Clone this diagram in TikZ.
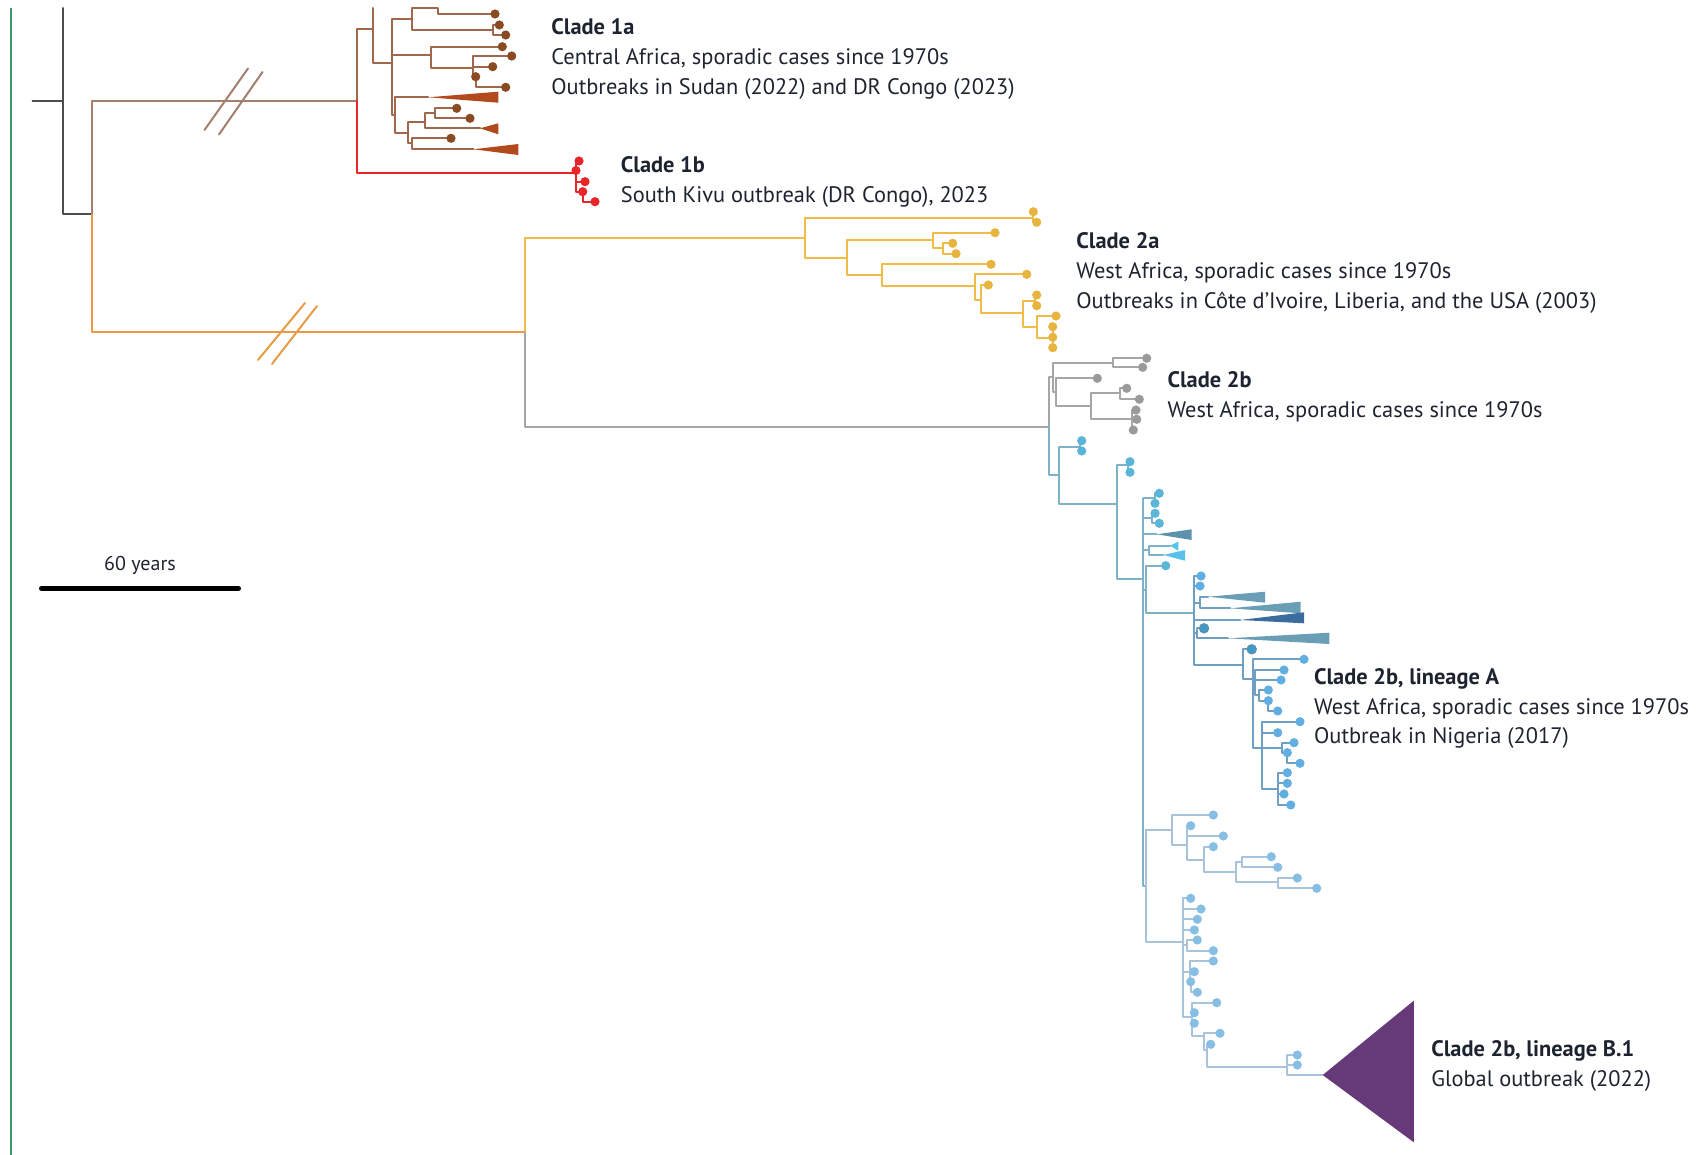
\documentclass[tikz,border=0pt]{standalone}
\usepackage{fontspec}
\setmainfont{PT Sans}
\usetikzlibrary{positioning}
\definecolor{rootgrey}{HTML}{4D4D4D}
\definecolor{trunkbrown}{HTML}{A3806E}
\definecolor{trunkorange}{HTML}{E79B45}
\definecolor{onealine}{HTML}{A0674C}
\definecolor{onedot}{HTML}{8A4A22}
\definecolor{onewedge}{HTML}{B24A1E}
\definecolor{onebred}{HTML}{E8262A}
\definecolor{twoayellow}{HTML}{F1BC45}
\definecolor{twoadot}{HTML}{E8B440}
\definecolor{twobgrey}{HTML}{A6A6A6}
\definecolor{twobdot}{HTML}{9A9A9A}
\definecolor{blueline}{HTML}{7FB2C6}
\definecolor{bluedot}{HTML}{5BB5D8}
\definecolor{linealine}{HTML}{6F9FC2}
\definecolor{lineadot}{HTML}{61AEE0}
\definecolor{linebline}{HTML}{A9C3DA}
\definecolor{linebdot}{HTML}{86BFE3}
\definecolor{steelwedge}{HTML}{5E91AC}
\definecolor{cyanwedge}{HTML}{58C2EA}
\definecolor{lineawedge}{HTML}{6A9EB6}
\definecolor{darkwedge}{HTML}{3A6C9E}
\definecolor{ancestordot}{HTML}{3E9ACB}
\definecolor{outbreakpurple}{HTML}{663A78}
\definecolor{edgegreen}{HTML}{3A9A6A}
\definecolor{labelink}{HTML}{1E2330}
\def\tipdot[#1](#2){\fill[#1] (#2) circle (2.3pt);}
\def\cladewedge[#1](#2)(#3:#4:#5){\fill[#1] (#2) -- (#3,#4) -- (#3,#5) -- cycle;}

\begin{document}
\begin{tikzpicture}[x=0.5pt,y=-0.5pt,
    branch/.style={line width=1pt, line cap=round, line join=round},
    cladetext/.style={anchor=base west, inner sep=0pt, text=labelink, font=\fontsize{11.2}{13}\selectfont}]
			%%%%% START %%%%%
			\useasboundingbox (0,0) rectangle (1701,1155);
			\draw[edgegreen, line width=0.8pt] (10.8,8) -- (10.8,1155);
			
			% root
			\draw[branch, rootgrey] (32.5,101) -- (63,101);
			\draw[branch, rootgrey] (63,8) -- (63,214.5) -- (92,214.5);
			\draw[branch, trunkbrown] (92,214.5) -- (92,101) -- (356.7,101);
			\draw[branch, trunkorange] (92,214.5) -- (92,332) -- (525,332);
			\draw[branch, trunkbrown] (204.5,130) -- (248,68.5);
			\draw[branch, trunkbrown] (219,134.5) -- (262.5,72);
			\draw[branch, trunkorange] (258,360) -- (305,303);
			\draw[branch, trunkorange] (272,364) -- (317,306);
			
			% clade 1a
			\draw[branch, onealine] (356.7,101) -- (356.7,29.3) -- (372.7,29.3);
			\draw[branch, onealine] (372.7,8) -- (372.7,63.3) -- (391.7,63.3);
			\draw[branch, onealine] (411.7,19.3) -- (391.7,19.3) -- (391.7,115) -- (395,115);
			\draw[branch, onealine] (391.7,55) -- (430.7,55);
			\draw[branch, onealine] (437.7,8.3) -- (411.7,8.3) -- (411.7,30) -- (492.7,30);
			\draw[branch, onealine] (437.7,8.3) -- (437.7,14) -- (495,14);
			\draw[branch, onealine] (505.7,35) -- (492.7,35) -- (492.7,25) -- (499.3,25);
			\draw[branch, onealine] (502.3,46.7) -- (430.7,46.7) -- (430.7,68.3) -- (472.7,68.3);
			\draw[branch, onealine] (511.7,56) -- (472.7,56) -- (472.7,76.7) -- (475.7,76.7) -- (475.7,87.3) -- (505.7,87.3);
			\draw[branch, onealine] (472.7,66.7) -- (492.7,66.7);
			\draw[branch, onealine] (428,97.3) -- (395,97.3) -- (395,133.3) -- (408.3,133.3);
			\draw[branch, onealine] (425,121.7) -- (408.3,121.7) -- (408.3,143.3) -- (411.7,143.3);
			\draw[branch, onealine] (435,112.7) -- (425,112.7) -- (425,128.3) -- (480,128.3);
			\draw[branch, onealine] (456.7,108.3) -- (435,108.3) -- (435,118.3) -- (470,118.3);
			\draw[branch, onealine] (451,138.3) -- (411.7,138.3) -- (411.7,149.3) -- (473.3,149.3);
			\cladewedge[onewedge](428,97.3)(498.3:91.7:102.7)
			\cladewedge[onewedge](480,128.3)(498.3:123.3:134.3)
			\cladewedge[onewedge](473.3,149.3)(518.3:144:155)
			\tipdot[onedot](495,14) \tipdot[onedot](499.3,25) \tipdot[onedot](505.7,35)
			\tipdot[onedot](502.3,46.7) \tipdot[onedot](511.7,56) \tipdot[onedot](492.7,66.7)
			\tipdot[onedot](475.7,76.7) \tipdot[onedot](505.7,87.3) \tipdot[onedot](456.7,108.3)
			\tipdot[onedot](470,118.3) \tipdot[onedot](451,138.3)
			
			% clade 1b
			\draw[branch, onebred] (356.7,101) -- (356.7,173) -- (576,173);
			\draw[branch, onebred] (579,161) -- (576,161) -- (576,191.7) -- (582.7,191.7) -- (582.7,201.7) -- (595,201.7);
			\draw[branch, onebred] (576,181.7) -- (585,181.7);
			\tipdot[onebred](579,161) \tipdot[onebred](576,170.5) \tipdot[onebred](585,181.7)
			\tipdot[onebred](582.7,191.7) \tipdot[onebred](595,201.7)
			
			% clade 2a
			\draw[branch, twoayellow] (525,332) -- (525,238) -- (805,238);
			\draw[branch, twoayellow] (1033,217.7) -- (805,217.7) -- (805,257.7) -- (846.7,257.7);
			\draw[branch, twoayellow] (1033,211.7) -- (1033,222.3) -- (1036.7,222.3);
			\draw[branch, twoayellow] (933.3,240) -- (846.7,240) -- (846.7,275) -- (881.7,275);
			\draw[branch, twoayellow] (995,232.7) -- (933.3,232.7) -- (933.3,248.3) -- (942.7,248.3);
			\draw[branch, twoayellow] (952.7,243.3) -- (942.7,243.3) -- (942.7,253.7) -- (956,253.7);
			\draw[branch, twoayellow] (991,264.3) -- (881.7,264.3) -- (881.7,286) -- (975,286);
			\draw[branch, twoayellow] (1026.7,274.3) -- (975,274.3) -- (975,300) -- (981,300);
			\draw[branch, twoayellow] (988.3,285) -- (981,285) -- (981,313.3) -- (1023.3,313.3);
			\draw[branch, twoayellow] (1035,301) -- (1023.3,301) -- (1023.3,326.7) -- (1036.7,326.7);
			\draw[branch, twoayellow] (1036.7,295) -- (1035,295) -- (1035,305.7) -- (1036.7,305.7);
			\draw[branch, twoayellow] (1056,316) -- (1036.7,316) -- (1036.7,337.7) -- (1052.7,337.7);
			\draw[branch, twoayellow] (1052.7,326.7) -- (1052.7,347.7);
			\tipdot[twoadot](1033.3,211.7) \tipdot[twoadot](1036.7,222.3) \tipdot[twoadot](995,232.7)
			\tipdot[twoadot](952.7,243.3) \tipdot[twoadot](956,253.7) \tipdot[twoadot](991,264.3)
			\tipdot[twoadot](1026.7,274.3) \tipdot[twoadot](988.3,285) \tipdot[twoadot](1036.7,295)
			\tipdot[twoadot](1036.7,305.7) \tipdot[twoadot](1056,316) \tipdot[twoadot](1052.7,326.7)
			\tipdot[twoadot](1052.7,337.3) \tipdot[twoadot](1052.7,347.7)
			
			% clade 2b
			\draw[branch, twobgrey] (525,332) -- (525,426.5) -- (1049.3,426.5);
			\draw[branch, twobgrey] (1049.3,426.5) -- (1049.3,376.7) -- (1052.7,376.7);
			\draw[branch, twobgrey] (1112.7,362.7) -- (1052.7,362.7) -- (1052.7,391.7) -- (1056,391.7);
			\draw[branch, twobgrey] (1146.7,358.3) -- (1112.7,358.3) -- (1112.7,367.3) -- (1142.7,367.3);
			\draw[branch, twobgrey] (1097.3,378.3) -- (1056,378.3) -- (1056,406) -- (1090.7,406);
			\draw[branch, twobgrey] (1120,393.3) -- (1090.7,393.3) -- (1090.7,419.3) -- (1131.7,419.3);
			\draw[branch, twobgrey] (1126.7,388.3) -- (1120,388.3) -- (1120,399.3) -- (1139.3,399.3);
			\draw[branch, twobgrey] (1136,410) -- (1131.7,410) -- (1131.7,430) -- (1133.3,430);
			\draw[branch, twobgrey] (1131.7,419.3) -- (1136.7,419.3);
			\tipdot[twobdot](1146.7,358.3) \tipdot[twobdot](1142.7,367.3) \tipdot[twobdot](1097.3,378.3)
			\tipdot[twobdot](1126.7,388.3) \tipdot[twobdot](1139.3,399.3) \tipdot[twobdot](1136,410)
			\tipdot[twobdot](1136.7,419.3) \tipdot[twobdot](1133.3,430)
			
			% clade 2b, upper blue part
			\draw[branch, blueline] (1049.3,426.5) -- (1049.3,475) -- (1059.3,475);
			\draw[branch, blueline] (1080,446.7) -- (1059.3,446.7) -- (1059.3,504.3) -- (1116.7,504.3);
			\draw[branch, blueline] (1081.7,440.7) -- (1080,440.7) -- (1080,451) -- (1081.7,451);
			\draw[branch, blueline] (1128.3,465) -- (1116.7,465) -- (1116.7,579.3) -- (1143.3,579.3);
			\draw[branch, blueline] (1130,461.7) -- (1128.3,461.7) -- (1128.3,472.3) -- (1130,472.3);
			\draw[branch, blueline] (1143.3,498.3) -- (1143.3,886) -- (1145.7,886);
			\draw[branch, blueline] (1143.3,498.3) -- (1155,498.3);
			\draw[branch, blueline] (1159.3,493.3) -- (1155,493.3) -- (1155,503.3);
			\draw[branch, blueline] (1143.3,518.3) -- (1151.7,518.3);
			\draw[branch, blueline] (1155,513.3) -- (1151.7,513.3) -- (1151.7,523.3) -- (1159.3,523.3);
			\draw[branch, blueline] (1143.3,534.3) -- (1156.7,534.3);
			\draw[branch, blueline] (1143.3,550.3) -- (1149.3,550.3);
			\draw[branch, blueline] (1170,545.7) -- (1149.3,545.7) -- (1149.3,555) -- (1163.3,555);
			\draw[branch, blueline] (1143.3,589.5) -- (1145.7,589.5);
			\draw[branch, blueline] (1165.7,565.7) -- (1145.7,565.7) -- (1145.7,613.3) -- (1194.3,613.3);
			\cladewedge[steelwedge](1156.7,534.3)(1191.7:529.3:540)
			\cladewedge[cyanwedge](1170,545.7)(1178.3:541.7:550.7)
			\cladewedge[cyanwedge](1163.3,555)(1185:550:560.7)
			\tipdot[bluedot](1081.7,440.7) \tipdot[bluedot](1081.7,451) \tipdot[bluedot](1130,461.7)
			\tipdot[bluedot](1130,472.3) \tipdot[bluedot](1159.3,493.3) \tipdot[bluedot](1155,503.3)
			\tipdot[bluedot](1155,513.3) \tipdot[bluedot](1159.3,523.3) \tipdot[bluedot](1165.7,565.7)
			
			% lineage A
			\draw[branch, linealine] (1194.3,576) -- (1194.3,665) -- (1242.7,665);
			\draw[branch, linealine] (1194.3,576) -- (1201,576);
			\draw[branch, linealine] (1194.3,586) -- (1200,586);
			\draw[branch, linealine] (1194.3,602.5) -- (1200,602.5);
			\draw[branch, linealine] (1208,596.7) -- (1200,596.7) -- (1200,608.3) -- (1230,608.3);
			\draw[branch, linealine] (1194.3,620) -- (1240,620);
			\draw[branch, linealine] (1194.3,633) -- (1197.3,633);
			\draw[branch, linealine] (1204,628.3) -- (1197.3,628.3) -- (1197.3,638.3) -- (1228,638.3);
			\cladewedge[lineawedge](1208,596.7)(1265:591.7:602.7)
			\cladewedge[lineawedge](1230,608.3)(1300.7:601.7:613.3)
			\cladewedge[darkwedge](1240,620)(1304:612.3:623.3)
			\cladewedge[lineawedge](1228,638.3)(1329.3:632.7:644)
			\draw[branch, linealine] (1251.7,649.3) -- (1242.7,649.3) -- (1242.7,679.3) -- (1252.7,679.3);
			\draw[branch, linealine] (1304,659.3) -- (1252.7,659.3) -- (1252.7,748.3) -- (1261.7,748.3);
			\draw[branch, linealine] (1252.7,682) -- (1255,682);
			\draw[branch, linealine] (1284,670) -- (1255,670) -- (1255,695) -- (1259.3,695);
			\draw[branch, linealine] (1255,680) -- (1281,680);
			\draw[branch, linealine] (1268.3,690) -- (1259.3,690) -- (1259.3,700.7) -- (1268.3,700.7) -- (1268.3,711) -- (1277.7,711);
			\draw[branch, linealine] (1300,721.7) -- (1261.7,721.7) -- (1261.7,789.3) -- (1278.3,789.3);
			\draw[branch, linealine] (1261.7,732.7) -- (1277.7,732.7);
			\draw[branch, linealine] (1261.7,748) -- (1281.7,748);
			\draw[branch, linealine] (1294,742.7) -- (1281.7,742.7) -- (1281.7,752.7) -- (1287.3,752.7) -- (1287.3,763.3) -- (1300,763.3);
			\draw[branch, linealine] (1287.3,772.7) -- (1278.3,772.7) -- (1278.3,805) -- (1290.7,805);
			\draw[branch, linealine] (1278.3,783.3) -- (1287.3,783.3);
			\draw[branch, linealine] (1278.3,794) -- (1284,794);
			\tipdot[lineadot](1201,576) \tipdot[lineadot](1200,586)
			\tipdot[fill=ancestordot, draw=steelwedge, line width=0.6pt](1204,628.3)
			\tipdot[fill=ancestordot, draw=steelwedge, line width=0.6pt](1251.7,649.3)
			\tipdot[lineadot](1304,659.3) \tipdot[lineadot](1284,670) \tipdot[lineadot](1281,680)
			\tipdot[lineadot](1268.3,690) \tipdot[lineadot](1268.3,700.7) \tipdot[lineadot](1277.7,711)
			\tipdot[lineadot](1300,721.7) \tipdot[lineadot](1277.7,732.7) \tipdot[lineadot](1294,742.7)
			\tipdot[lineadot](1287.3,752.7) \tipdot[lineadot](1300,763.3) \tipdot[lineadot](1287.3,772.7)
			\tipdot[lineadot](1287.3,783.3) \tipdot[lineadot](1284,794) \tipdot[lineadot](1290.7,805)
			
			% lineage B
			\draw[branch, linebline] (1145.7,830) -- (1145.7,941.7) -- (1183.3,941.7);
			\draw[branch, linebline] (1145.7,830) -- (1171.7,830);
			\draw[branch, linebline] (1213.3,815) -- (1171.7,815) -- (1171.7,845) -- (1187.3,845);
			\draw[branch, linebline] (1190.7,825.7) -- (1187.3,825.7) -- (1187.3,860) -- (1204,860);
			\draw[branch, linebline] (1187.3,836) -- (1223.3,836);
			\draw[branch, linebline] (1213.3,846.7) -- (1204,846.7) -- (1204,871.7) -- (1235.7,871.7);
			\draw[branch, linebline] (1242.3,861.7) -- (1235.7,861.7) -- (1235.7,882.3) -- (1278.3,882.3);
			\draw[branch, linebline] (1271.3,856.7) -- (1242.3,856.7) -- (1242.3,867.3) -- (1277.7,867.3);
			\draw[branch, linebline] (1297.3,878) -- (1278.3,878) -- (1278.3,888.3) -- (1316.7,888.3);
			\draw[branch, linebline] (1190.7,898.3) -- (1183.3,898.3) -- (1183.3,1016.7) -- (1191.7,1016.7);
			\draw[branch, linebline] (1183.3,909) -- (1201,909);
			\draw[branch, linebline] (1183.3,919.3) -- (1197.3,919.3);
			\draw[branch, linebline] (1183.3,930) -- (1194.3,930);
			\draw[branch, linebline] (1183.3,945) -- (1187.3,945);
			\draw[branch, linebline] (1197.3,940) -- (1187.3,940) -- (1187.3,950.7) -- (1213.3,950.7);
			\draw[branch, linebline] (1183.3,972) -- (1190,972);
			\draw[branch, linebline] (1213.3,961) -- (1190,961) -- (1190,981.7) -- (1190.7,981.7) -- (1190.7,992.3) -- (1197.3,992.3);
			\draw[branch, linebline] (1190,971.7) -- (1194.3,971.7);
			\draw[branch, linebline] (1216.7,1002.7) -- (1191.7,1002.7) -- (1191.7,1036) -- (1204,1036);
			\draw[branch, linebline] (1191.7,1012.7) -- (1194.3,1012.7);
			\draw[branch, linebline] (1191.7,1023.3) -- (1194.3,1023.3);
			\draw[branch, linebline] (1220,1033.3) -- (1204,1033.3) -- (1204,1050) -- (1207.3,1050);
			\draw[branch, linebline] (1210.7,1044.3) -- (1207.3,1044.3) -- (1207.3,1066.7) -- (1287.3,1066.7);
			\draw[branch, linebline] (1297.3,1055) -- (1287.3,1055) -- (1287.3,1075) -- (1322.7,1075);
			\draw[branch, linebline] (1287.3,1065) -- (1297.3,1065);
			\tipdot[linebdot](1213.3,815) \tipdot[linebdot](1190.7,825.7) \tipdot[linebdot](1223.3,836)
			\tipdot[linebdot](1213.3,846.7) \tipdot[linebdot](1271.3,856.7) \tipdot[linebdot](1277.7,867.3)
			\tipdot[linebdot](1297.3,878) \tipdot[linebdot](1316.7,888.3) \tipdot[linebdot](1190.7,898.3)
			\tipdot[linebdot](1201,909) \tipdot[linebdot](1197.3,919.3) \tipdot[linebdot](1194.3,930)
			\tipdot[linebdot](1197.3,940) \tipdot[linebdot](1213.3,950.7) \tipdot[linebdot](1213.3,961)
			\tipdot[linebdot](1194.3,971.7) \tipdot[linebdot](1190.7,981.7) \tipdot[linebdot](1197.3,992.3)
			\tipdot[linebdot](1216.7,1002.7) \tipdot[linebdot](1194.3,1012.7) \tipdot[linebdot](1194.3,1023.3)
			\tipdot[linebdot](1220,1033.3) \tipdot[linebdot](1210.7,1044.3) \tipdot[linebdot](1297.3,1055)
			\tipdot[linebdot](1297.3,1065)
			\cladewedge[outbreakpurple](1322.7,1075)(1413.8:1000.7:1142.3)
			
			% labels
			\node[cladetext] (oneatitle) at (551,35) {\textbf{Clade 1a}};
			\node[cladetext] (oneaplace) at (551,65) {Central Africa, sporadic cases since 1970s};
			\node[cladetext] (oneaoutbreak) at (551,95) {Outbreaks in Sudan (2022) and DR Congo (2023)};
			\node[cladetext] (onebtitle) at (620.5,173) {\textbf{Clade 1b}};
			\node[cladetext] (onebplace) at (620.5,203) {South Kivu outbreak (DR Congo), 2023};
			\node[cladetext] (twoatitle) at (1076,249) {\textbf{Clade 2a}};
			\node[cladetext] (twoaplace) at (1076,278.5) {West Africa, sporadic cases since 1970s};
			\node[cladetext] (twoaoutbreak) at (1076,308.5) {Outbreaks in Côte d’Ivoire, Liberia, and the USA (2003)};
			\node[cladetext] (twobtitle) at (1167.2,387) {\textbf{Clade 2b}};
			\node[cladetext] (twobplace) at (1167.2,417) {West Africa, sporadic cases since 1970s};
			\node[cladetext] (lineatitle) at (1313.7,684) {\textbf{Clade 2b, lineage A}};
			\node[cladetext] (lineaplace) at (1313.7,714) {West Africa, sporadic cases since 1970s};
			\node[cladetext] (lineaoutbreak) at (1313.7,743.5) {Outbreak in Nigeria (2017)};
			\node[cladetext] (linebtitle) at (1430.9,1056) {\textbf{Clade 2b, lineage B.1}};
			\node[cladetext] (linebglobal) at (1430.9,1086) {Global outbreak (2022)};
			
			% scale bar
			\draw[line width=2.5pt, line cap=round] (41.5,588.5) -- (238.5,588.5);
			\node[cladetext, anchor=base, font=\fontsize{10}{12}\selectfont] (scalelabel) at (140,570) {60 years};
			%%%%% END %%%%%
\end{tikzpicture}
\end{document}
